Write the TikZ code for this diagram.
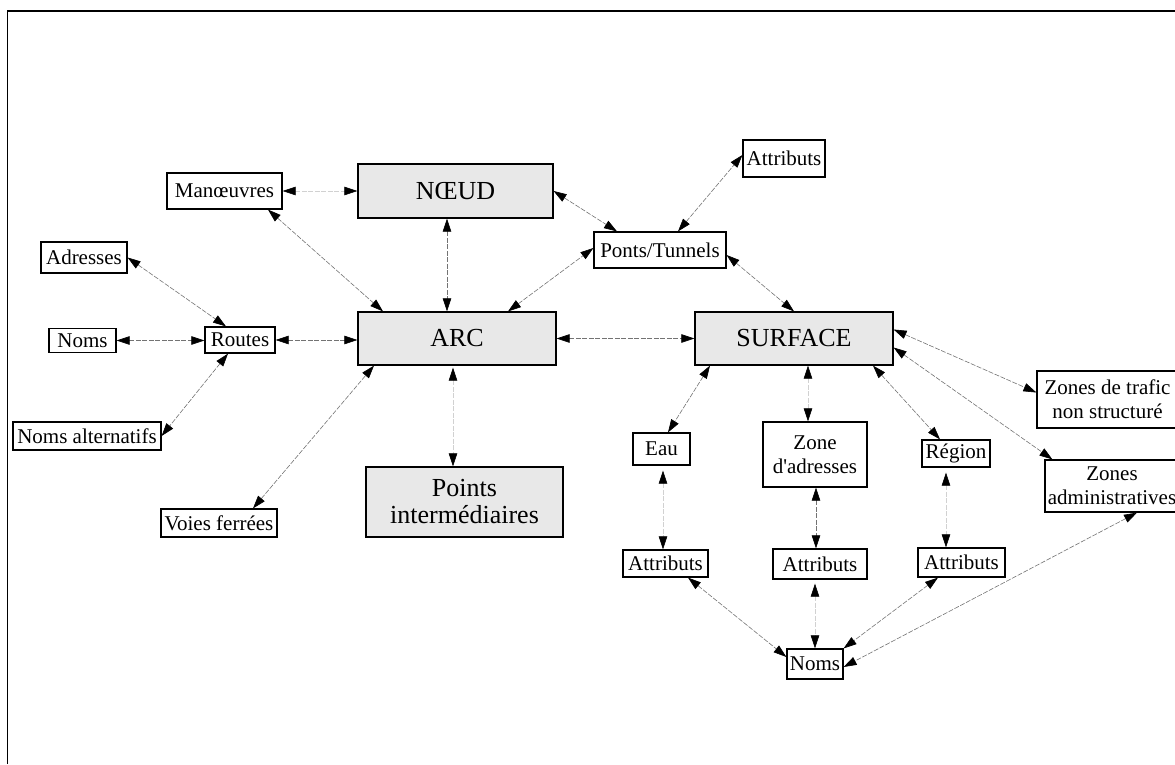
\documentclass[tikz,border=0pt]{standalone}
\usepackage{fontspec}
\setmainfont{Liberation Serif}
\usetikzlibrary{arrows.meta,calc}
\begin{document}
\begin{tikzpicture}[x=1pt,y=-1pt,
  box/.style={draw=black,line width=1.2pt,inner sep=0pt,align=center,
    font=\fontsize{21}{24}\selectfont},
  bigbox/.style={box,fill=black!9,font=\fontsize{26}{27}\selectfont},
  tip/.tip={Triangle[length=13pt,width=8.5pt,color=black]},
  link/.style={draw=black!55,line width=0.6pt,dash pattern=on 5pt off 1.5pt,tip-tip},
  faint/.style={link,draw=black!18},
  frame/.style={draw=black,line width=1.2pt}
]
\useasboundingbox (0,0) rectangle (1175,764);
% frame
\coordinate (ftl) at (7.5,11);
\coordinate (ftr) at (1175,11);
\coordinate (fbl) at (7.5,764);
\draw[frame] (fbl) -- (ftl) -- (ftr);

% nodes
\node[box,minimum width=115,minimum height=36] (man) at (224.5,191) {Manœuvres};
\node[bigbox,minimum width=195,minimum height=54] (noeud) at (455.5,191) {NŒUD};
\node[box,minimum width=82,minimum height=37] (attT) at (784,158.5) {Attributs};
\node[box,minimum width=86,minimum height=31] (adr) at (84,257.5) {Adresses};
\node[box,minimum width=132,minimum height=36] (ponts) at (660,250) {Ponts/Tunnels};
\node[box,minimum width=67,minimum height=24] (nomsL) at (82.5,340.5) {Noms};
\node[box,minimum width=70,minimum height=26] (routes) at (240,340) {Routes};
\node[bigbox,minimum width=198,minimum height=53] (arc) at (457,338.5) {ARC};
\node[bigbox,minimum width=198,minimum height=53] (surf) at (794,338.5) {SURFACE};
\node[box,minimum width=148,minimum height=28] (nalt) at (87,436) {Noms alternatifs};
\node[box,minimum width=141,minimum height=57] (zt) at (1107.5,399.5) {Zones de trafic\\non structuré};
\node[box,minimum width=57,minimum height=32] (eau) at (661.5,449) {Eau};
\node[box,minimum width=104,minimum height=65] (zad) at (815,454.5) {Zone\\d\textquotesingle adresses};
\node[box,minimum width=68,minimum height=27] (reg) at (956,453.5) {Région};
\node[box,minimum width=134,minimum height=52] (zadm) at (1112,486) {Zones\\administratives};
\node[box,minimum width=116,minimum height=28] (vf) at (219,523) {Voies ferrées};
\node[bigbox,minimum width=197,minimum height=70] (pts) at (464.5,502) {Points\\intermédiaires};
\node[box,minimum width=85,minimum height=27] (attA) at (665.5,563.5) {Attributs};
\node[box,minimum width=94,minimum height=30] (attB) at (820,564) {Attributs};
\node[box,minimum width=87,minimum height=29] (attC) at (961.5,562.5) {Attributs};
\node[box,minimum width=56,minimum height=30] (nomsB) at (815,664) {Noms};

% connectors
\draw[faint] (man.east) -- (noeud.west);
\draw[link] ($(man.south)+(43.5,0)$) -- ($(arc.north)+(-74,0)$);
\draw[link] (adr.east) -- ($(routes.north)+(-14,0)$);
\draw[link] (nomsL.east) -- (nomsL.east -| routes.west);
\draw[link] (routes.east) -- (routes.east -| arc.west);
\draw[link] ($(routes.south)+(-12,0)$) -- (nalt.east);
\draw[link] ($(vf.north)+(34,0)$) -- ($(arc.south)+(-83,0)$);
\draw[link] ($(noeud.south)+(-8.5,0)$) -- ($(arc.north)+(-10,0)$);
\draw[faint,shorten <=2pt] ($(arc.south)+(-4,0)$) -- ($(pts.north)+(-11.5,0)$);
\draw[link] (noeud.east) -- ($(ponts.north)+(-43,0)$);
\draw[link] ($(arc.north)+(51,0)$) -- ($(ponts.west)+(0,-2)$);
\draw[link] ($(ponts.north)+(18,0)$) -- ($(attT.west)+(0,-3.5)$);
\draw[link] ($(ponts.east)+(0,5)$) -- (surf.north);
\draw[link] (arc.east) -- (surf.west);
\draw[link] ($(surf.south)+(-84,0)$) -- ($(eau.north)+(6.5,0)$);
\draw[faint] ($(surf.south)+(14,0)$) -- ($(zad.north)+(-7,0)$);
\draw[link] ($(surf.south)+(79,0)$) -- ($(reg.north)+(-16,0)$);
\draw[link] ($(surf.east)+(0,-9)$) -- ($(zt.west)+(0,-7)$);
\draw[link] ($(surf.east)+(0,9)$) -- ($(zadm.north west)+(8,0)$);
\draw[faint,shorten <=5pt] ($(eau.south)+(1.5,0)$) -- ($(attA.north)+(-2.5,0)$);
\draw[link] ($(zad.south)+(1,0)$) -- ($(attB.north)+(-4,0)$);
\draw[faint,shorten <=5pt] ($(reg.south)+(-10,0)$) -- ($(attC.north)+(-15.5,0)$);
\draw[link] ($(attA.south)+(22.5,0)$) -- ($(nomsB.west)+(0,-7)$);
\draw[faint,shorten <=4pt] ($(attB.south)+(-5,0)$) -- (nomsB.north);
\draw[link] ($(attC.south)+(-23.5,0)$) -- (nomsB.north east);
\draw[link] ($(zadm.south)+(25,0)$) -- ($(nomsB.east)+(0,3)$);
\end{tikzpicture}
\end{document}
